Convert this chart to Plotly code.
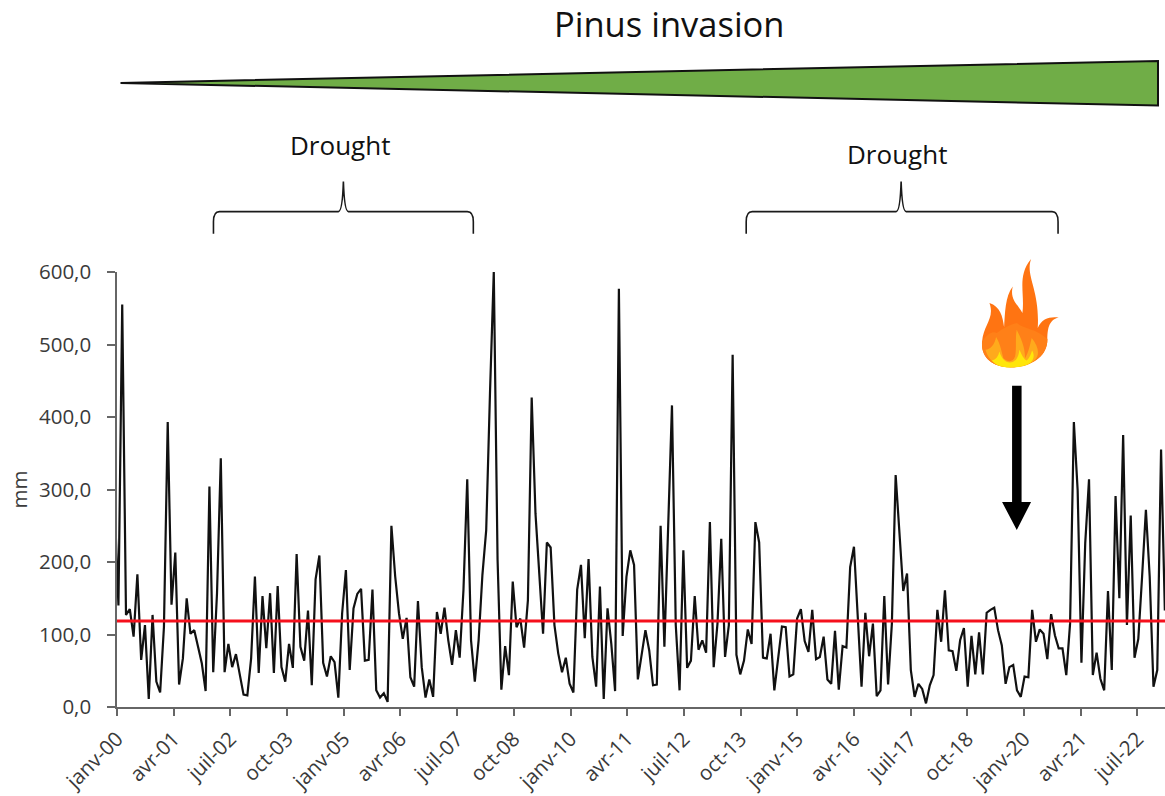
import pandas as pd
import plotly.graph_objects as go

W, H = 1165, 796
L, R, T, B = 116.5, 0, 272.3, 89.3

precip = [
 280, 140, 555, 127, 135, 97, 183, 65, 113, 11, 127, 35, 20, 110, 393, 141, 213, 31, 67, 150,
 101, 106, 83, 60, 22, 304, 48, 157, 343, 48, 87, 55, 73, 46, 17, 16, 67, 180, 47, 153,
 81, 157, 47, 167, 55, 35, 87, 54, 211, 83, 64, 133, 30, 176, 209, 61, 42, 70, 62, 13,
 129, 189, 51, 136, 156, 163, 64, 65, 162, 23, 13, 19, 7, 250, 180, 129, 94, 123, 41, 28,
 146, 55, 13, 38, 14, 131, 101, 137, 92, 58, 106, 68, 161, 314, 92, 35, 92, 182, 244, 433,
 600, 203, 24, 84, 44, 173, 110, 122, 82, 147, 427, 267, 180, 101, 227, 220, 113, 74, 48, 68,
 32, 20, 162, 196, 95, 204, 69, 28, 166, 11, 136, 87, 22, 577, 98, 180, 216, 196, 38, 69,
 106, 78, 30, 31, 250, 83, 249, 416, 113, 23, 216, 54, 64, 153, 79, 92, 75, 255, 55, 115,
 232, 69, 113, 486, 72, 45, 64, 107, 87, 255, 227, 68, 67, 101, 23, 64, 111, 110, 42, 45,
 122, 135, 91, 76, 134, 66, 69, 97, 38, 32, 105, 24, 84, 82, 193, 221, 129, 28, 130, 70,
 115, 15, 23, 153, 31, 115, 320, 239, 160, 184, 51, 14, 32, 25, 5, 30, 44, 134, 90, 161,
 78, 77, 50, 92, 109, 28, 98, 45, 103, 45, 130, 134, 137, 106, 85, 32, 55, 58, 23, 14,
 42, 41, 134, 90, 107, 101, 66, 128, 99, 81, 81, 44, 115, 393, 299, 61, 226, 314, 44, 75,
 39, 23, 160, 51, 291, 150, 375, 113, 264, 68, 94, 180, 272, 180, 28, 51, 355, 133,
]
mean_precip = 118.5
tick_labels = ["janv-00", "avr-01", "juil-02", "oct-03", "janv-05", "avr-06", "juil-07",
               "oct-08", "janv-10", "avr-11", "juil-12", "oct-13", "janv-15", "avr-16",
               "juil-17", "oct-18", "janv-20", "avr-21", "juil-22"]
y_ticks = [0, 100, 200, 300, 400, 500, 600]
y_labels = ["0,0", "100,0", "200,0", "300,0", "400,0", "500,0", "600,0"]

dates = pd.date_range("1999-12-13", periods=len(precip), freq=pd.Timedelta(days=30.53))
tick_dates = pd.date_range("2000-01-01", periods=len(tick_labels), freq=pd.DateOffset(months=15))

fig = go.Figure()
fig.add_trace(go.Scatter(x=dates, y=precip, mode="lines", line=dict(color="#111111", width=2.2),
                         showlegend=False))
fig.add_trace(go.Scatter(x=["2000-01-01", "2023-02-08"], y=[mean_precip, mean_precip], mode="lines",
                         line=dict(color="#F5101C", width=3), showlegend=False))


def px(x, y):
    return f"{(x - L) / (W - L - R):.5f},{1 - (y - T) / (H - T - B):.5f}"


def path(cmds):
    return " ".join(c if isinstance(c, str) else px(*c) for c in cmds)


def shape(cmds, fill=None, line=None, width=0):
    fig.add_shape(type="path", xref="paper", yref="paper", path=path(cmds),
                  fillcolor=fill if fill else "rgba(0,0,0,0)",
                  line=dict(color=line if line else "rgba(0,0,0,0)", width=width), layer="above")


# wedge
shape(["M", (120, 83.5), "L", (1158, 61.5), "L", (1158, 106), "Z"], "#70AD47", "#111111", 2)


def brace(x0, x1, xm):
    shape(["M", (x0, 234), "L", (x0, 222), "Q", (x0, 212), (x0 + 6, 212), "L", (xm - 5, 212),
           "Q", (xm - 1, 212), (xm, 182), "Q", (xm + 1, 212), (xm + 5, 212),
           "L", (x1 - 6, 212), "Q", (x1, 212), (x1, 222), "L", (x1, 234)], None, "#1a1a1a", 1.6)


brace(213, 473, 343)
brace(746, 1058, 901)


def fx(zx, zy):
    return (960 + zx / 3, 250 + zy / 3)


# flame: layered flat tones from the red-orange tips down to the yellow base
shape(["M", fx(150, 352), "C", fx(95, 352), fx(62, 320), fx(66, 275), "C", fx(70, 225), fx(105, 205), fx(88, 160),
       "C", fx(120, 170), fx(128, 200), fx(132, 232), "C", fx(135, 190), fx(135, 140), fx(158, 110),
       "C", fx(148, 150), fx(175, 165), fx(187, 190), "C", fx(195, 130), fx(170, 80), fx(213, 28),
       "C", fx(195, 80), fx(240, 120), fx(233, 235), "C", fx(245, 205), fx(270, 200), fx(296, 203),
       "C", fx(265, 210), fx(262, 240), fx(262, 270), "C", fx(262, 320), fx(215, 352), fx(150, 352), "Z"],
      "#FF7412")
shape(["M", fx(150, 352), "C", fx(95, 352), fx(62, 320), fx(66, 278), "C", fx(72, 262), fx(95, 240), fx(110, 250),
       "C", fx(130, 235), fx(150, 225), fx(170, 220), "C", fx(195, 240), fx(225, 235), fx(262, 268),
       "C", fx(262, 320), fx(215, 352), fx(150, 352), "Z"], "#FF8018")
shape(["M", fx(150, 352), "C", fx(115, 352), fx(85, 335), fx(76, 300), "C", fx(90, 300), fx(104, 285), fx(108, 262),
       "C", fx(122, 285), fx(125, 310), fx(130, 325), "C", fx(145, 340), fx(160, 335), fx(165, 320),
       "C", fx(170, 295), fx(165, 265), fx(170, 240), "C", fx(182, 265), fx(195, 290), fx(195, 325),
       "C", fx(205, 310), fx(210, 285), fx(215, 265), "C", fx(235, 290), fx(240, 315), fx(225, 330),
       "C", fx(205, 350), fx(180, 352), fx(150, 352), "Z"], "#FFAA1C")
shape(["M", fx(150, 353), "C", fx(125, 353), fx(105, 345), fx(95, 332), "C", fx(108, 330), fx(115, 318), fx(118, 305),
       "C", fx(124, 325), fx(135, 338), fx(150, 338), "C", fx(168, 338), fx(176, 320), fx(178, 300),
       "C", fx(185, 315), fx(192, 330), fx(200, 332), "C", fx(208, 325), fx(213, 312), fx(216, 302),
       "C", fx(224, 315), fx(222, 328), fx(212, 338), "C", fx(195, 350), fx(175, 353), fx(150, 353), "Z"],
      "#FFE60A")

# arrow
shape(["M", (1012, 386), "L", (1021.5, 386), "L", (1021.5, 502), "L", (1031, 502), "L", (1016.7, 530),
       "L", (1002, 502), "L", (1012, 502), "Z"], "#000000")


def label(text, x, y, size):
    fig.add_annotation(text=text, xref="paper", yref="paper",
                       x=(x - L) / (W - L - R), y=1 - (y - T) / (H - T - B),
                       showarrow=False, xanchor="center", yanchor="middle",
                       font=dict(family="Open Sans", size=size, color="#111111"))


label("Pinus invasion", 669, 24, 34.5)
label("Drought", 340, 145, 26)
label("Drought", 897, 154, 26)

axis_col = "#666666"
tick_font = dict(size=20.5, color="#3a3a3a")
fig.update_layout(
    width=W, height=H, margin=dict(l=L, r=R, t=T, b=B, autoexpand=False),
    paper_bgcolor="white", plot_bgcolor="white", showlegend=False,
    font=dict(family="Open Sans", color="#404040"),
    xaxis=dict(type="date", range=["2000-01-01", "2023-02-08"], tickmode="array",
               tickvals=list(tick_dates), ticktext=tick_labels, tickangle=-45,
               ticks="outside", ticklen=7, tickwidth=1.5, tickcolor=axis_col,
               showgrid=False, zeroline=False, showline=True, linecolor=axis_col, linewidth=1.5,
               tickfont=tick_font, ticklabelstandoff=3),
    yaxis=dict(range=[0, 600], tickmode="array", tickvals=y_ticks, ticktext=y_labels,
               ticks="outside", ticklen=8, tickwidth=1.5, tickcolor=axis_col,
               showgrid=False, zeroline=False, showline=True, linecolor=axis_col, linewidth=1.5,
               tickfont=tick_font, ticklabelstandoff=12,
               title=dict(text="mm", font=tick_font, standoff=6)),
)
fig.write_html("out.html", config={"displayModeBar": False},
               post_script="document.body.style.margin='0';document.body.style.overflow='hidden';")
